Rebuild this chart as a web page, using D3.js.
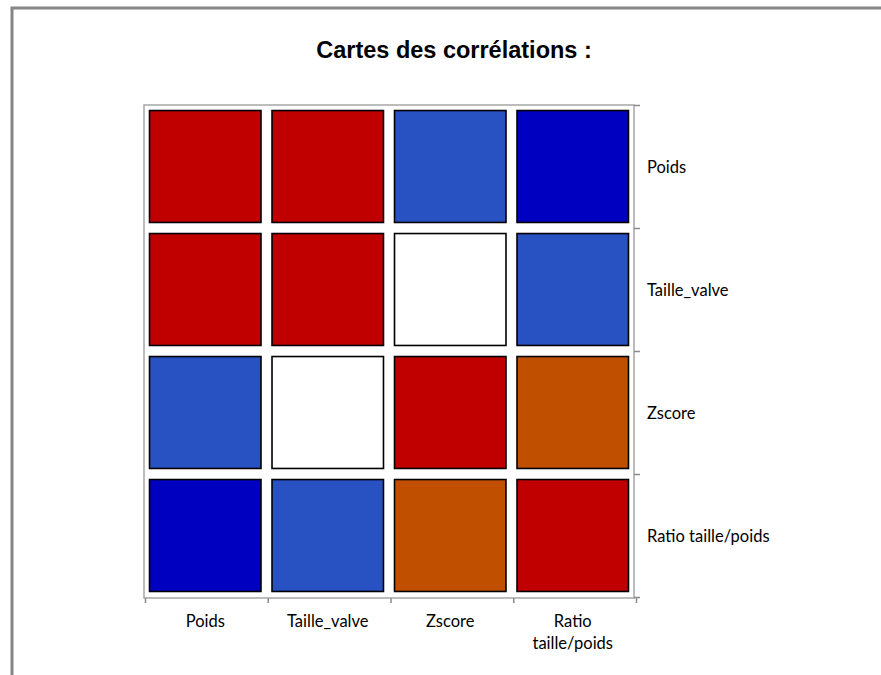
<!DOCTYPE html>
<html lang="fr">
<head>
<meta charset="utf-8">
<script src="https://d3js.org/d3.v7.min.js"></script>
<style>
    *{margin:0;padding:0}
    body{background:#fff;overflow:hidden}
    svg{display:block}
    .lbl text{font-family:Lato,"Open Sans",sans-serif;font-size:16.5px;fill:#000}
    .title{font-family:"Liberation Sans",Arial,sans-serif;font-weight:bold;font-size:23.5px}
</style>
</head>
<body>
<script>
// variables of the correlation matrix (rows top to bottom, columns left to right)
const variables=['Poids','Taille_valve','Zscore','Ratio taille/poids'];
// estimated correlation values read from the colour classes
const rowPoids=[1,0.93,-0.45,-0.88];
const rowTaille=[0.93,1,0.03,-0.52];
const rowZscore=[-0.45,0.03,1,0.52];
const rowRatio=[-0.88,-0.52,0.52,1];
const correlations=[rowPoids,rowTaille,rowZscore,rowRatio];
// colour classes
const classBreaks=[-0.7,-0.2,0.2,0.7];
const classColours=['#0000c0','#2852c2','#ffffff','#c05000','#c00000'];

const width=881,height=675;
const mLeft=144,mRight=634,mTop=105,mBottom=597;

const svg=d3.select('body').append('svg')
    .attr('width',width)
    .attr('height',height);

// outer frame
svg.append('rect')
   .attr('x',12).attr('y',8)
   .attr('width',1000).attr('height',1000)
   .attr('fill','none')
   .attr('stroke','#858585')
   .attr('stroke-width',3);

svg.append('text')
   .attr('class','title')
   .attr('x',454).attr('y',58)
   .attr('text-anchor','middle')
   .text('Cartes des corrélations :');

const x=d3.scaleBand().domain(variables).range([mLeft,mRight]).paddingInner(0.09).paddingOuter(0.045);
const y=d3.scaleBand().domain(variables).range([mTop,mBottom]).paddingInner(0.09).paddingOuter(0.045);
const xEdge=d3.scaleLinear().domain([0,variables.length]).range([mLeft+1,mRight+2]);
const yEdge=d3.scaleLinear().domain([0,variables.length]).range([mTop,mBottom]);
const colour=d3.scaleThreshold().domain(classBreaks).range(classColours);

const cells=[];
correlations.forEach((row,i)=>row.forEach((v,j)=>cells.push({r:variables[i],c:variables[j],v})));

svg.append('g')
   .selectAll('rect')
   .data(cells)
   .enter()
   .append('rect')
   .attr('x',d=>x(d.c))
   .attr('y',d=>y(d.r))
   .attr('width',x.bandwidth())
   .attr('height',y.bandwidth())
   .attr('fill',d=>colour(d.v))
   .attr('stroke','#000')
   .attr('stroke-width',1.6);

// plot frame
svg.append('rect')
   .attr('x',mLeft).attr('y',mTop)
   .attr('width',mRight-mLeft).attr('height',mBottom-mTop+1)
   .attr('fill','none')
   .attr('stroke','#a6a6a6')
   .attr('stroke-width',1.5);

// boundary ticks
const edgeTicks=d3.range(variables.length+1);
svg.append('g')
   .attr('transform',`translate(0,${mBottom+1})`)
   .call(d3.axisBottom(xEdge).tickValues(edgeTicks).tickFormat('').tickSize(5).tickSizeOuter(0))
   .call(g=>g.select('.domain').remove())
   .call(g=>g.selectAll('line').attr('stroke','#8a8a8a').attr('stroke-width',1.5));
svg.append('g')
   .attr('transform',`translate(${mRight},0)`)
   .call(d3.axisRight(yEdge).tickValues(edgeTicks).tickFormat('').tickSize(6).tickSizeOuter(0))
   .call(g=>g.select('.domain').remove())
   .call(g=>g.selectAll('line').attr('stroke','#8a8a8a').attr('stroke-width',1.5));

// wrap long labels on several lines
const wrap=(text,maxw)=>{
    text.each(function(){
        const t=d3.select(this);
        const words=t.text().split(/\s+/);
        const xx=t.attr('x')||0, yy=t.attr('y');
        t.text(null);
        let line=[],n=0;
        let span=t.append('tspan').attr('x',xx).attr('y',yy).attr('dy','0.71em');
        words.forEach(w=>{
            line.push(w);
            span.text(line.join(' '));
            if(span.node().getComputedTextLength()>maxw && line.length>1){
                line.pop();
                span.text(line.join(' '));
                line=[w];
                n++;
                span=t.append('tspan').attr('x',xx).attr('y',yy)
                      .attr('dy',(0.71+n*1.35)+'em').text(w);
            }
        });
    });
};

svg.append('g')
   .attr('class','lbl')
   .attr('transform',`translate(0,${mBottom})`)
   .call(d3.axisBottom(x).tickSize(0).tickPadding(18))
   .call(g=>g.select('.domain').remove())
   .call(g=>g.attr('font-family',null).attr('font-size',null))
   .call(g=>g.selectAll('text').attr('dy',null).call(wrap,110));

svg.append('g')
   .attr('class','lbl')
   .attr('transform',`translate(${mRight},0)`)
   .call(d3.axisRight(y).tickSize(0).tickPadding(13))
   .call(g=>g.select('.domain').remove())
   .call(g=>g.attr('font-family',null).attr('font-size',null))
   .call(g=>g.selectAll('text').attr('dy','0.42em'));
</script>
</body>
</html>
